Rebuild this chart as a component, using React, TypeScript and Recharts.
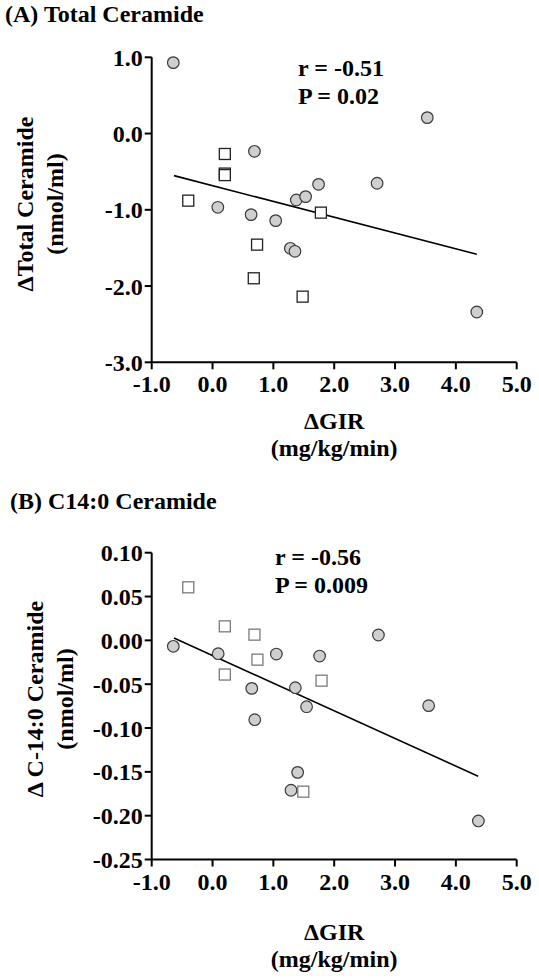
import { Scatter, ScatterChart, XAxis, YAxis } from "recharts"

const FONT = '"Liberation Serif", "Times New Roman", Times, serif'

// ΔGIR axis (mg/kg/min), shared by both panels
const girTicks = [-1, 0, 1, 2, 3, 4, 5]

// (A) Total ceramide
const totalTicks = [-3, -2, -1, 0, 1]
const totalCircleGir = [-0.645, 0.689, 3.53, 1.743, 2.705, 1.377, 1.53, 0.087, 0.634, 1.038, 1.279, 1.355, 4.344]
const totalCircleVal = [0.93, -0.233, 0.209, -0.666, -0.652, -0.871, -0.827, -0.967, -1.063, -1.142, -1.505, -1.544, -2.34]
const totalSquareGir = [0.202, 0.202, 0.202, -0.399, 1.781, 0.732, 0.678, 1.481]
const totalSquareVal = [-0.268, -0.525, -0.545, -0.88, -1.037, -1.457, -1.898, -2.139]
const totalFitGir = [-0.634, 4.344]
const totalFitVal = [-0.552, -1.584]

// (B) C14:0 ceramide
const c14Ticks = [-0.25, -0.2, -0.15, -0.1, -0.05, 0, 0.05, 0.1]
const c14CircleGir = [-0.645, 0.093, 1.049, 1.76, 2.727, 0.645, 1.361, 1.546, 3.552, 0.694, 1.399, 1.29, 4.37]
const c14CircleVal = [-0.0068, -0.0152, -0.0156, -0.0179, 0.0061, -0.0548, -0.054, -0.0757, -0.0745, -0.0905, -0.1506, -0.171, -0.206]
const c14SquareGir = [-0.399, 0.202, 0.689, 0.738, 0.202, 1.792, 1.492]
const c14SquareVal = [0.0605, 0.016, 0.0065, -0.022, -0.039, -0.046, -0.1726]
const c14FitGir = [-0.634, 4.366]
const c14FitVal = [0.0027, -0.155]

const zip = (xs: number[], ys: number[]) => xs.map((x, i) => ({ x, y: ys[i] }))

const X_AXIS_H = 30
const PLOT_LEFT = 151.7
const PLOT_RIGHT = 516.7
const W = 539

function CircleDot(props: { cx?: number; cy?: number }) {
  const { cx = 0, cy = 0 } = props
  return <circle cx={cx} cy={cy} r={5.8} fill="#cfcfcf" stroke="#3a3a3a" strokeWidth={1.2} />
}

function squareDot(stroke: string) {
  return (props: { cx?: number; cy?: number }) => {
    const { cx = 0, cy = 0 } = props
    return <rect x={cx - 5.5} y={cy - 5.5} width={11} height={11} fill="#fff" stroke={stroke} strokeWidth={1.3} />
  }
}

const NoDot = () => <g />

const tickStyle = { fill: "#000", fontSize: 24, fontWeight: 700, fontFamily: FONT }
const axisStroke = { stroke: "#000", strokeWidth: 2 }

interface PanelProps {
  top: number
  height: number
  plotTop: number
  plotBottom: number
  yDomain: [number, number]
  yTicks: number[]
  digits: number
  circles: { x: number; y: number }[]
  squares: { x: number; y: number }[]
  fit: { x: number; y: number }[]
  squareStroke: string
  title: string
  titleX: number
  titleY: number
  stats: string[]
  statsX: number
  statsY: number
  yLabel: string[]
  yLabelX: number
  yLabelY: number
  xLabelY: number
}

function Panel(p: PanelProps) {
  const txt = { fontFamily: FONT, fontWeight: 700, fontSize: 24, fill: "#000" }
  const midX = (PLOT_LEFT + PLOT_RIGHT) / 2
  return (
    <div style={{ position: "absolute", left: 0, top: p.top, width: W, height: p.height }}>
      <ScatterChart
        width={W}
        height={p.height}
        margin={{ top: p.plotTop, right: W - PLOT_RIGHT, bottom: p.height - p.plotBottom - X_AXIS_H, left: 0 }}
      >
        <XAxis
          type="number"
          dataKey="x"
          domain={[-1, 5]}
          ticks={girTicks}
          interval={0}
          height={X_AXIS_H}
          tickFormatter={(v: number) => v.toFixed(1)}
          tick={tickStyle}
          axisLine={axisStroke}
          tickLine={axisStroke}
          tickSize={7}
          tickMargin={6}
        />
        <YAxis
          type="number"
          dataKey="y"
          domain={p.yDomain}
          ticks={p.yTicks}
          interval={0}
          width={PLOT_LEFT}
          tickFormatter={(v: number) => v.toFixed(p.digits)}
          tick={tickStyle}
          axisLine={axisStroke}
          tickLine={axisStroke}
          tickSize={7}
          tickMargin={2}
        />
        <Scatter
          data={p.fit}
          stroke="#000"
          line={{ stroke: "#000", strokeWidth: 1.6 }}
          shape={NoDot}
          isAnimationActive={false}
        />
        <Scatter data={p.circles} shape={CircleDot} isAnimationActive={false} />
        <Scatter data={p.squares} shape={squareDot(p.squareStroke)} isAnimationActive={false} />
      </ScatterChart>
      <svg
        width={W}
        height={p.height}
        style={{ position: "absolute", left: 0, top: 0, pointerEvents: "none" }}
      >
        <text x={p.titleX} y={p.titleY} {...txt}>{p.title}</text>
        {p.stats.map((s, i) => (
          <text key={i} x={p.statsX} y={p.statsY + i * 27.5} {...txt}>{s}</text>
        ))}
        {p.yLabel.map((s, i) => {
          const x = p.yLabelX + i * 30
          return (
            <text key={i} x={x} y={p.yLabelY} textAnchor="middle" transform={`rotate(-90 ${x} ${p.yLabelY})`} {...txt}>
              {s}
            </text>
          )
        })}
        <text x={midX} y={p.xLabelY} textAnchor="middle" {...txt}>ΔGIR</text>
        <text x={midX} y={p.xLabelY + 27} textAnchor="middle" {...txt}>(mg/kg/min)</text>
      </svg>
    </div>
  )
}

export default function App() {
  return (
    <div style={{ position: "absolute", left: 0, top: 0, width: W, height: 979, background: "#fff" }}>
      <Panel
        top={0}
        height={480}
        plotTop={57.3}
        plotBottom={362.3}
        yDomain={[-3, 1]}
        yTicks={totalTicks}
        digits={1}
        circles={zip(totalCircleGir, totalCircleVal)}
        squares={zip(totalSquareGir, totalSquareVal)}
        fit={zip(totalFitGir, totalFitVal)}
        squareStroke="#222"
        title="(A) Total Ceramide"
        titleX={5}
        titleY={22}
        stats={["r = -0.51", "P = 0.02"]}
        statsX={298}
        statsY={76}
        yLabel={["ΔTotal Ceramide", "(nmol/ml)"]}
        yLabelX={33}
        yLabelY={204}
        xLabelY={429}
      />
      <Panel
        top={480}
        height={499}
        plotTop={72.7}
        plotBottom={379.5}
        yDomain={[-0.25, 0.1]}
        yTicks={c14Ticks}
        digits={2}
        circles={zip(c14CircleGir, c14CircleVal)}
        squares={zip(c14SquareGir, c14SquareVal)}
        fit={zip(c14FitGir, c14FitVal)}
        squareStroke="#7a7a7a"
        title="(B) C14:0 Ceramide"
        titleX={10}
        titleY={29}
        stats={["r = -0.56", "P = 0.009"]}
        statsX={275}
        statsY={85}
        yLabel={["Δ C-14:0 Ceramide", "(nmol/ml)"]}
        yLabelX={43}
        yLabelY={219}
        xLabelY={460}
      />
    </div>
  )
}
